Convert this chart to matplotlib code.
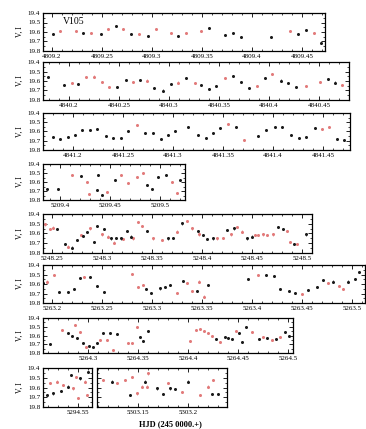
import numpy as np
import matplotlib
matplotlib.use("Agg")
import matplotlib.pyplot as plt
from matplotlib.ticker import MultipleLocator, FuncFormatter

plt.rcParams['font.family'] = ['Liberation Serif', 'DejaVu Serif']

# Datos: HJD y magnitud; codigo de serie 'b' (negro) / 'r' (rojo)
jd1 = [4809.201, 4809.208, 4809.224, 4809.231, 4809.239, 4809.249, 4809.256, 4809.264, 4809.271,
       4809.279, 4809.287, 4809.296, 4809.304, 4809.319, 4809.326, 4809.334, 4809.349, 4809.357,
       4809.373, 4809.381, 4809.389, 4809.419, 4809.438, 4809.446, 4809.454, 4809.462, 4809.469]
mag1 = [19.624, 19.589, 19.586, 19.614, 19.614, 19.624, 19.572, 19.537, 19.572,
        19.624, 19.624, 19.642, 19.572, 19.607, 19.642, 19.614, 19.586, 19.561,
        19.632, 19.614, 19.656, 19.649, 19.586, 19.621, 19.579, 19.614, 19.719]
src1 = "brrbrbrbrbrbrrbrrbbbbbrbbrb"

jd2 = [4840.179, 4840.195, 4840.203, 4840.209, 4840.217, 4840.225, 4840.233, 4840.240, 4840.248,
       4840.257, 4840.264, 4840.271, 4840.278, 4840.285, 4840.294, 4840.302, 4840.309, 4840.317,
       4840.326, 4840.332, 4840.340, 4840.347, 4840.356, 4840.364, 4840.372, 4840.380, 4840.388,
       4840.396, 4840.403, 4840.412, 4840.419, 4840.427, 4840.437, 4840.451, 4840.459, 4840.466,
       4840.473]
mag2 = [19.561, 19.642, 19.624, 19.632, 19.561, 19.554, 19.607, 19.666, 19.666,
        19.589, 19.614, 19.589, 19.596, 19.677, 19.701, 19.632, 19.617, 19.572,
        19.624, 19.642, 19.688, 19.653, 19.572, 19.547, 19.607, 19.677, 19.653,
        19.572, 19.526, 19.596, 19.624, 19.660, 19.653, 19.607, 19.579, 19.617,
        19.642]
src2 = "bbrbrrrrbbrbrbbbrbrbbbrbbbrbrbbbrrbbr"

jd3 = [4841.180, 4841.187, 4841.195, 4841.202, 4841.209, 4841.217, 4841.224, 4841.233, 4841.240,
       4841.248, 4841.255, 4841.264, 4841.272, 4841.280, 4841.288, 4841.295, 4841.302, 4841.315,
       4841.325, 4841.333, 4841.340, 4841.347, 4841.355, 4841.363, 4841.371, 4841.385, 4841.393,
       4841.402, 4841.409, 4841.418, 4841.426, 4841.433, 4841.442, 4841.449, 4841.456, 4841.464,
       4841.471]
mag3 = [19.656, 19.684, 19.663, 19.638, 19.584, 19.584, 19.576, 19.649, 19.674,
        19.674, 19.591, 19.530, 19.613, 19.613, 19.684, 19.638, 19.591, 19.555,
        19.638, 19.667, 19.613, 19.566, 19.519, 19.555, 19.692, 19.649, 19.584,
        19.555, 19.555, 19.638, 19.667, 19.663, 19.566, 19.576, 19.548, 19.684,
        19.692]
src3 = "bbbbbbbbbbbrbbbbbbbbbbrbrbbbbbbbbrrbb"

jd4 = [5209.387, 5209.398, 5209.412, 5209.421, 5209.427, 5209.429, 5209.438, 5209.437, 5209.442,
       5209.447, 5209.455, 5209.461, 5209.468, 5209.477, 5209.483, 5209.487, 5209.492, 5209.498,
       5209.506, 5209.512, 5209.517, 5209.520]
mag4 = [19.681, 19.681, 19.522, 19.533, 19.597, 19.733, 19.522, 19.689, 19.744,
        19.708, 19.578, 19.522, 19.608, 19.541, 19.497, 19.633, 19.681, 19.548,
        19.522, 19.597, 19.719, 19.578]
src4 = "bbrbrrbbbrbrrrrbbbbrrb"

jd5 = [5248.243, 5248.248, 5248.251, 5248.255, 5248.263, 5248.266, 5248.270, 5248.275, 5248.279,
       5248.281, 5248.285, 5248.288, 5248.292, 5248.295, 5248.300, 5248.302, 5248.306, 5248.309,
       5248.312, 5248.314, 5248.319, 5248.321, 5248.325, 5248.329, 5248.331, 5248.336, 5248.340,
       5248.345, 5248.351, 5248.360, 5248.366, 5248.371, 5248.375, 5248.380, 5248.385, 5248.390,
       5248.396, 5248.397, 5248.401, 5248.405, 5248.411, 5248.415, 5248.421, 5248.425, 5248.429,
       5248.432, 5248.435, 5248.440, 5248.445, 5248.450, 5248.453, 5248.456, 5248.461, 5248.465,
       5248.471, 5248.476, 5248.481, 5248.485, 5248.488, 5248.492, 5248.495, 5248.504]
mag5 = [19.506, 19.557, 19.540, 19.557, 19.711, 19.735, 19.745, 19.667, 19.615,
        19.626, 19.588, 19.547, 19.684, 19.520, 19.609, 19.557, 19.632, 19.650,
        19.694, 19.643, 19.650, 19.656, 19.574, 19.632, 19.650, 19.485, 19.520,
        19.574, 19.650, 19.667, 19.650, 19.643, 19.581, 19.496, 19.472, 19.547,
        19.574, 19.609, 19.615, 19.656, 19.650, 19.650, 19.643, 19.564, 19.609,
        19.547, 19.530, 19.581, 19.650, 19.632, 19.615, 19.615, 19.609, 19.615,
        19.609, 19.530, 19.554, 19.574, 19.684, 19.711, 19.711, 19.609]
src5 = "rrrbbrbbrbbrbbrbrbrbbrbbrrrbrrbbrbrrbrbbbrrbrbrrbbrrrrrbbrrbrb"

jd6 = [5263.191, 5263.195, 5263.202, 5263.207, 5263.216, 5263.222, 5263.228, 5263.232, 5263.238,
       5263.245, 5263.252, 5263.280, 5263.286, 5263.291, 5263.294, 5263.299, 5263.308, 5263.313,
       5263.318, 5263.325, 5263.331, 5263.335, 5263.340, 5263.345, 5263.347, 5263.352, 5263.356,
       5263.396, 5263.406, 5263.414, 5263.422, 5263.428, 5263.437, 5263.443, 5263.450, 5263.456,
       5263.465, 5263.471, 5263.476, 5263.481, 5263.487, 5263.491, 5263.496, 5263.503, 5263.507]
mag6 = [19.586, 19.575, 19.505, 19.681, 19.681, 19.656, 19.540, 19.530, 19.530,
        19.621, 19.681, 19.495, 19.628, 19.611, 19.656, 19.698, 19.646, 19.628,
        19.611, 19.698, 19.565, 19.586, 19.670, 19.670, 19.575, 19.733, 19.611,
        19.551, 19.505, 19.505, 19.516, 19.656, 19.670, 19.691, 19.705, 19.663,
        19.628, 19.558, 19.593, 19.575, 19.621, 19.656, 19.575, 19.551, 19.470]
src6 = "brrbbbbrbbbrrrbbbbbrbrrbrrbbrbbbbbrbbbrbrrbbb"

jd7 = [5264.262, 5264.274, 5264.280, 5264.284, 5264.287, 5264.289, 5264.292, 5264.295, 5264.298,
       5264.301, 5264.305, 5264.309, 5264.312, 5264.315, 5264.319, 5264.322, 5264.325, 5264.329,
       5264.340, 5264.344, 5264.349, 5264.352, 5264.355, 5264.360, 5264.402, 5264.408, 5264.412,
       5264.416, 5264.420, 5264.424, 5264.428, 5264.432, 5264.437, 5264.440, 5264.444, 5264.448,
       5264.451, 5264.454, 5264.458, 5264.464, 5264.471, 5264.475, 5264.479, 5264.484, 5264.488,
       5264.492, 5264.497, 5264.501]
mag7 = [19.697, 19.537, 19.568, 19.606, 19.480, 19.632, 19.556, 19.690, 19.728,
        19.720, 19.728, 19.682, 19.651, 19.575, 19.651, 19.568, 19.766, 19.587,
        19.690, 19.682, 19.499, 19.613, 19.659, 19.545, 19.659, 19.537, 19.530,
        19.545, 19.568, 19.606, 19.644, 19.671, 19.621, 19.632, 19.644, 19.545,
        19.575, 19.671, 19.499, 19.556, 19.644, 19.621, 19.632, 19.651, 19.644,
        19.613, 19.556, 19.606]
src7 = "brbbrbrbrbbbrbrbrbrrrbbbrrrrrrbrbbbrbbbrbrbrbrbb"

jd8a = [5294.519, 5294.522, 5294.525, 5294.529, 5294.533, 5294.535, 5294.540, 5294.543,
        5294.545, 5294.548, 5294.550, 5294.552, 5294.557, 5294.559, 5294.560]
mag8a = [19.677, 19.557, 19.660, 19.540, 19.636, 19.574, 19.591, 19.472,
         19.609, 19.489, 19.711, 19.506, 19.540, 19.677, 19.438]
src8a = "brbrbrbbrrrbrrb"

jd8b = [5303.115, 5303.124, 5303.129, 5303.137, 5303.142, 5303.144, 5303.149, 5303.154,
        5303.157, 5303.159, 5303.160, 5303.169, 5303.175, 5303.180, 5303.182, 5303.187,
        5303.194, 5303.200, 5303.212, 5303.220, 5303.224, 5303.225, 5303.230]
mag8b = [19.523, 19.540, 19.557, 19.523, 19.677, 19.489, 19.660, 19.591,
         19.540, 19.591, 19.455, 19.609, 19.670, 19.557, 19.609, 19.615,
         19.643, 19.540, 19.677, 19.591, 19.670, 19.523, 19.670]
src8b = "rbrrbrrrbrrbbrbbrbrrbrb"

err = 0.012

# Paneles: (datos, caja en pixeles x0, x1, y0, y1, limites en x)
W, H = 366, 429
panels = [
    (jd1, mag1, src1, (43, 325, 13, 51), (4809.191, 4809.473)),
    (jd2, mag2, src2, (43, 349, 62, 100), (4840.174, 4840.480)),
    (jd3, mag3, src3, (43, 350, 113, 150), (4841.170, 4841.477)),
    (jd4, mag4, src4, (43, 185, 164, 200), (5209.383, 5209.525)),
    (jd5, mag5, src5, (43, 312, 214, 253), (5248.241, 5248.510)),
    (jd6, mag6, src6, (43, 365, 265, 303), (5263.191, 5263.513)),
    (jd7, mag7, src7, (43, 293, 318, 353), (5264.255, 5264.505)),
    (jd8a, mag8a, src8a, (43, 92, 368, 407), (5294.515, 5294.564)),
    (jd8b, mag8b, src8b, (97, 227, 368, 407), (5303.109, 5303.239)),
]

colores = {'b': '#1a1a1a', 'r': '#e27a7a'}

def fmt_x(v, pos):
    s = "%.2f" % v
    return s.rstrip('0')

fig = plt.figure(figsize=(W / 100, H / 100), dpi=100)

for i, (jd, mag, src, (x0, x1, y0, y1), xl) in enumerate(panels):
    ax = fig.add_axes([x0 / W, 1 - y1 / H, (x1 - x0) / W, (y1 - y0) / H])
    jd = np.array(jd)
    mag = np.array(mag)
    s = np.array(list(src))
    for c in ['r', 'b']:
        m = s == c
        ax.errorbar(jd[m], mag[m], yerr=err, fmt='o', ms=2.2, mew=0,
                    color=colores[c], ecolor=colores[c], elinewidth=0.5, capsize=0)
    ax.set_xlim(*xl)
    ax.set_ylim(19.8, 19.4)
    ax.xaxis.set_major_locator(MultipleLocator(0.05))
    ax.xaxis.set_minor_locator(MultipleLocator(0.01))
    ax.yaxis.set_major_locator(MultipleLocator(0.1))
    ax.yaxis.set_minor_locator(MultipleLocator(0.05))
    ax.xaxis.set_major_formatter(FuncFormatter(fmt_x))
    ax.tick_params(which='both', direction='in', top=True, right=True, labelsize=5, pad=2)
    ax.tick_params(which='major', length=3, width=0.6)
    ax.tick_params(which='minor', length=1.5, width=0.5)
    for sp in ax.spines.values():
        sp.set_linewidth(0.9)
    if x0 > 50:
        ax.set_yticklabels([])
    else:
        ax.set_ylabel("V, I", fontsize=5.5, labelpad=3)
    if i == 0:
        ax.text(0.07, 0.78, "V105", transform=ax.transAxes, fontsize=7, va='center')

fig.text(170 / W, 1 - 424 / H, "HJD (245 0000.+)", ha='center', va='center',
         fontsize=6, fontweight='bold')

plt.savefig("out.png", dpi=100)
